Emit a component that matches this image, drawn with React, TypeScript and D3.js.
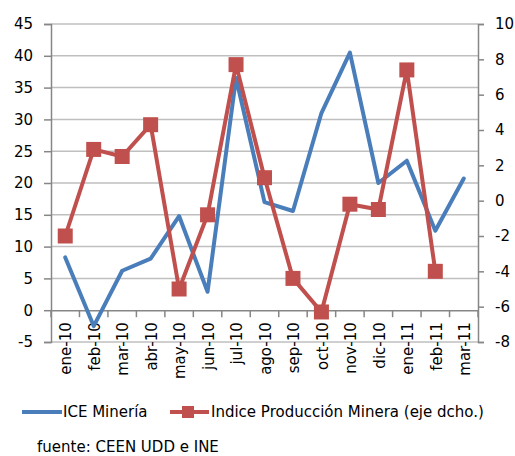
import React, { useEffect } from 'react';
import * as d3 from 'd3';

const months = [
  'ene-10', 'feb-10', 'mar-10', 'abr-10', 'may-10', 'jun-10', 'jul-10', 'ago-10',
  'sep-10', 'oct-10', 'nov-10', 'dic-10', 'ene-11', 'feb-11', 'mar-11',
];
const iceMineria = [8.3, -2.5, 6.2, 8.1, 14.8, 2.9, 36.5, 17, 15.6, 31, 40.5, 20, 23.5, 12.5, 20.7];
const produccion: (number | null)[] = [-2.0, 2.9, 2.5, 4.3, -5.0, -0.8, 7.7, 1.3, -4.4, -6.3, -0.2, -0.5, 7.4, -4.0, null];
const leftTicks = [-5, 0, 5, 10, 15, 20, 25, 30, 35, 40, 45];
const rightTicks = [-8, -6, -4, -2, 0, 2, 4, 6, 8, 10];

const BLUE = '#4a7ebb';
const RED = '#c0504d';
const FONT = "'DejaVu Sans', sans-serif";

const App: React.FC = () => {
  const svgRef = React.useRef<SVGSVGElement>(null);

  useEffect(() => {
    const svg = d3.select(svgRef.current);
    svg.selectAll('*').remove();

    const left = 51, right = 478, top = 24, bottom = 342;

    const x = d3.scaleBand<string>().domain(months).range([left, right]);
    const yL = d3.scaleLinear().domain([-5, 45]).range([bottom, top]);
    const yR = d3.scaleLinear().domain([-8, 10]).range([bottom, top]);
    const cx = (m: string) => (x(m) || 0) + x.bandwidth() / 2;
    // plain hyphen for negatives, like the original
    const fmt = (d: d3.NumberValue) => String(d.valueOf());

    // Gridlines
    svg.append('g')
      .selectAll('line')
      .data(leftTicks.filter(t => t !== 0))
      .enter()
      .append('line')
      .attr('x1', left).attr('x2', right)
      .attr('y1', d => yL(d)).attr('y2', d => yL(d))
      .attr('stroke', '#bfbfbf').attr('stroke-width', 1.5);

    // Left axis
    const gl = svg.append('g').attr('transform', `translate(${left},0)`)
      .call(d3.axisLeft(yL).tickValues(leftTicks).tickSize(7).tickPadding(11).tickFormat(fmt));
    // Right axis
    const gr = svg.append('g').attr('transform', `translate(${right},0)`)
      .call(d3.axisRight(yR).tickValues(rightTicks).tickSize(6).tickPadding(11).tickFormat(fmt));
    // Category axis at zero
    const gx = svg.append('g').attr('transform', `translate(0,${yL(0)})`)
      .call(d3.axisBottom(x).tickSize(0).tickPadding(0));

    [gl, gr].forEach(g => {
      g.select('.domain').attr('stroke', '#868686').attr('stroke-width', 1.5);
      g.selectAll('.tick line').attr('stroke', '#868686').attr('stroke-width', 1.5);
      g.selectAll('text')
        .style('font-family', FONT).style('font-size', '15px').attr('fill', '#000');
    });

    gx.select('.domain').attr('stroke', '#868686').attr('stroke-width', 1.5);
    gx.selectAll('.tick text')
      .attr('transform', 'rotate(-90)')
      .attr('x', -12).attr('y', 1).attr('dy', '0.35em')
      .style('text-anchor', 'end')
      .style('font-family', FONT).style('font-size', '15px').attr('fill', '#000');
    // Boundary ticks between categories
    gx.selectAll('.bound')
      .data(d3.range(months.length + 1))
      .enter()
      .append('line')
      .attr('x1', i => left + i * x.bandwidth()).attr('x2', i => left + i * x.bandwidth())
      .attr('y1', 0).attr('y2', 7)
      .attr('stroke', '#868686').attr('stroke-width', 1.5);

    // Blue line
    const blueLine = d3.line<number>()
      .x((_, i) => cx(months[i]))
      .y(d => yL(d));
    svg.append('path')
      .datum(iceMineria)
      .attr('d', blueLine)
      .attr('fill', 'none').attr('stroke', BLUE).attr('stroke-width', 4)
      .attr('stroke-linejoin', 'round').attr('stroke-linecap', 'round');

    // Red line
    const redLine = d3.line<number | null>()
      .defined(d => d !== null)
      .x((_, i) => cx(months[i]))
      .y(d => yR(d as number));
    svg.append('path')
      .datum(produccion)
      .attr('d', redLine)
      .attr('fill', 'none').attr('stroke', RED).attr('stroke-width', 4)
      .attr('stroke-linejoin', 'round');

    const sq = 15;
    svg.append('g')
      .selectAll('rect')
      .data(produccion.map((v, i) => ({ v, m: months[i] })).filter(d => d.v !== null))
      .enter()
      .append('rect')
      .attr('x', d => cx(d.m) - sq / 2)
      .attr('y', d => yR(d.v as number) - sq / 2)
      .attr('width', sq).attr('height', sq)
      .attr('fill', RED);

    // Legend
    const ly = 412;
    svg.append('line').attr('x1', 22).attr('x2', 62).attr('y1', ly).attr('y2', ly)
      .attr('stroke', BLUE).attr('stroke-width', 4);
    svg.append('text').attr('x', 63).attr('y', ly + 5)
      .style('font-family', FONT).style('font-size', '15px').text('ICE Minería');
    svg.append('line').attr('x1', 170).attr('x2', 209).attr('y1', ly).attr('y2', ly)
      .attr('stroke', RED).attr('stroke-width', 4);
    svg.append('rect').attr('x', 182).attr('y', ly - 6).attr('width', 12).attr('height', 12)
      .attr('fill', RED);
    svg.append('text').attr('x', 211).attr('y', ly + 5)
      .style('font-family', FONT).style('font-size', '15px').text('Indice Producción Minera (eje dcho.)');

    svg.append('text').attr('x', 37).attr('y', 452)
      .style('font-family', FONT).style('font-size', '15px').text('fuente: CEEN UDD e INE');
  }, []);

  return (
    <svg ref={svgRef} width={515} height={456}
      style={{ position: 'absolute', left: 0, top: 0, background: '#fff' }} />
  );
};

export default App;
